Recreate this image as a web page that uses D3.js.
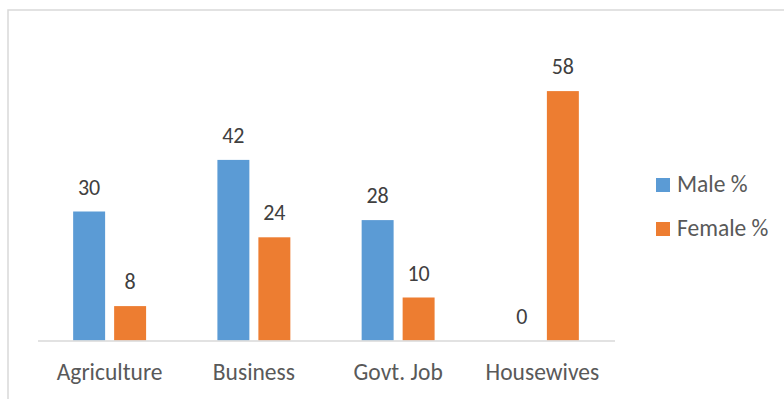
<!DOCTYPE html>
<html>
<head>
<meta charset="utf-8">
<script src="https://cdn.jsdelivr.net/npm/d3@7"></script>
<style>
  html, body { margin: 0; padding: 0; background: #fff; }
  svg { display: block; font-family: Carlito, Calibri, Lato, "Open Sans", sans-serif; }
</style>
</head>
<body>
<svg id="chart" width="784" height="399"></svg>
<script>
// Occupation distribution by gender (%)
const categories = ["Agriculture", "Business", "Govt. Job", "Housewives"];
const seriesNames = ["Male %", "Female %"];
const maleValues = [30, 42, 28, 0];
const femaleValues = [8, 24, 10, 58];
const colors = ["#5B9BD5", "#ED7D31"];

const svg = d3.select("#chart");

// outer chart frame
svg.append("rect")
  .attr("x", 8).attr("y", 10)
  .attr("width", 800).attr("height", 420)
  .attr("fill", "none")
  .attr("stroke", "#d9d9d9")
  .attr("stroke-width", 1.5);

const x0 = d3.scaleBand().domain(categories).range([37.5, 614.5]).padding(0);
const x1 = d3.scaleBand().domain(seriesNames).range([0, x0.bandwidth()])
  .paddingInner(0.22).paddingOuter(0.87);
const y = d3.scaleLinear().domain([0, 70]).range([340.5, 39.5]);

const rows = categories.map((c, i) => ({
  category: c,
  values: [maleValues[i], femaleValues[i]]
}));

const groups = svg.append("g").selectAll("g")
  .data(rows).join("g")
  .attr("transform", d => `translate(${x0(d.category)},0)`);

groups.selectAll("rect")
  .data(d => d.values.map((v, j) => ({ name: seriesNames[j], value: v, j })))
  .join("rect")
  .attr("x", d => x1(d.name))
  .attr("width", x1.bandwidth())
  .attr("y", d => y(d.value))
  .attr("height", d => y(0) - y(d.value))
  .attr("fill", d => colors[d.j]);

groups.selectAll("text.val")
  .data(d => d.values.map((v, j) => ({ name: seriesNames[j], value: v })))
  .join("text")
  .attr("class", "val")
  .attr("x", d => x1(d.name) + x1.bandwidth() / 2)
  .attr("y", d => y(d.value) - 17)
  .attr("text-anchor", "middle")
  .attr("font-size", 22)
  .attr("fill", "#404040")
  .text(d => d.value);

// category axis
const xAxis = svg.append("g")
  .attr("transform", `translate(0,${y(0)})`)
  .call(d3.axisBottom(x0).tickSize(0));
xAxis.select(".domain").attr("stroke", "#d9d9d9").attr("stroke-width", 1.5);
xAxis.selectAll("text")
  .attr("y", 39.5)
  .attr("dy", 0)
  .attr("font-size", 23.5)
  .attr("fill", "#595959")
  .attr("font-family", "Carlito, Calibri, Lato, 'Open Sans', sans-serif");

// legend
const legend = svg.append("g").selectAll("g")
  .data(seriesNames).join("g")
  .attr("transform", (d, i) => `translate(656,${178 + i * 44})`);
legend.append("rect")
  .attr("width", 14).attr("height", 14)
  .attr("fill", (d, i) => colors[i]);
legend.append("text")
  .attr("x", 21).attr("y", 13.5)
  .attr("font-size", 23.5)
  .attr("fill", "#595959")
  .text(d => d);
</script>
</body>
</html>
